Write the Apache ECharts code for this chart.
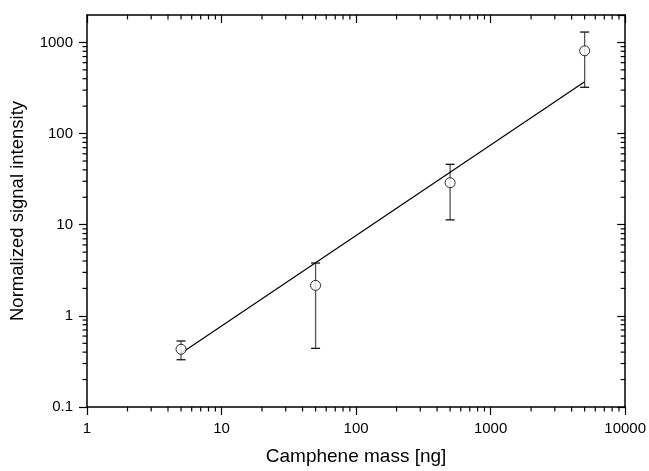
<!DOCTYPE html>
<html>
<head>
<meta charset="utf-8">
<script src="https://cdn.jsdelivr.net/npm/echarts@6/dist/echarts.min.js"></script>
<style>
  html, body { margin: 0; padding: 0; background: #fff; }
  #chart { width: 649px; height: 471px; }
</style>
</head>
<body>
<div id="chart"></div>
<script>
// camphene mass (ng) vs normalized signal
const massNg = [5, 50, 500, 5000];
const signal = [0.43, 2.16, 28.9, 810];
const errLow = [0.33, 0.44, 11.3, 322];
const errHigh = [0.53, 3.8, 46, 1300];
const fitMass = [5, 5000];
const fitSignal = [0.39, 370];

// minor tick positions (log axes, 2..9 of each decade)
const xMinor = [2, 3, 4, 5, 6, 7, 8, 9, 20, 30, 40, 50, 60, 70, 80, 90,
    200, 300, 400, 500, 600, 700, 800, 900, 2000, 3000, 4000, 5000, 6000, 7000, 8000, 9000];
const yMinor = [0.2, 0.3, 0.4, 0.5, 0.6, 0.7, 0.8, 0.9, 2, 3, 4, 5, 6, 7, 8, 9,
    20, 30, 40, 50, 60, 70, 80, 90, 200, 300, 400, 500, 600, 700, 800, 900];

const font = '"Liberation Sans", Arial, sans-serif';

let chart = echarts.init(document.getElementById('chart'));

function logAxis(pos, min, max, withLabels, inside) {
    return {
        type: 'log',
        logBase: 10,
        position: pos,
        min: min,
        max: max,
        axisLine: { show: true, onZero: false, lineStyle: { color: '#000', width: 1.5 } },
        axisTick: { show: true, inside: inside, length: 8, lineStyle: { color: '#000', width: 1.2 } },
        minorTick: { show: false },
        axisLabel: {
            show: withLabels,
            showMaxLabel: false,
            margin: 14,
            color: '#000',
            fontFamily: font,
            fontSize: 15,
            formatter: function (v) { return String(+v.toPrecision(6)); }
        },
        splitLine: { show: false },
        minorSplitLine: { show: false }
    };
}

let xBottom = logAxis('bottom', 1, 10000, true, false);
xBottom.axisLabel.showMaxLabel = true;
xBottom.name = 'Camphene mass [ng]';
xBottom.nameLocation = 'middle';
xBottom.nameGap = 40;
xBottom.nameTextStyle = { color: '#000', fontFamily: font, fontSize: 19 };

let yLeft = logAxis('left', 0.1, 2000, true, false);
yLeft.name = 'Normalized signal intensity';
yLeft.nameLocation = 'middle';
yLeft.nameGap = 60;
yLeft.nameTextStyle = { color: '#000', fontFamily: font, fontSize: 18.5 };

let errData = massNg.map((m, i) => [m, errLow[i], errHigh[i]]);

function tickStyle() {
    return { stroke: '#000', lineWidth: 1.2 };
}

chart.setOption({
    animation: false,
    backgroundColor: '#fff',
    grid: { left: 87, right: 23, top: 15, bottom: 62, containLabel: false },
    xAxis: [xBottom, logAxis('top', 1, 10000, false, true)],
    yAxis: [yLeft, logAxis('right', 0.1, 2000, false, true)],
    series: [
        {
            // minor ticks on bottom (outward) and top (inward)
            type: 'custom',
            clip: false,
            silent: true,
            z: 1,
            data: xMinor.map(v => [v, 1]),
            renderItem: function (params, api) {
                let cs = params.coordSys;
                let x = api.coord([api.value(0), 1])[0];
                let b = cs.y + cs.height, t = cs.y;
                return {
                    type: 'group',
                    children: [
                        { type: 'line', shape: { x1: x, y1: b, x2: x, y2: b + 4.5 }, style: tickStyle() },
                        { type: 'line', shape: { x1: x, y1: t, x2: x, y2: t + 4.5 }, style: tickStyle() }
                    ]
                };
            }
        },
        {
            // minor ticks on left (outward) and right (inward)
            type: 'custom',
            clip: false,
            silent: true,
            z: 1,
            data: yMinor.map(v => [1, v]),
            renderItem: function (params, api) {
                let cs = params.coordSys;
                let y = api.coord([1, api.value(1)])[1];
                let l = cs.x, r = cs.x + cs.width;
                return {
                    type: 'group',
                    children: [
                        { type: 'line', shape: { x1: l - 4.5, y1: y, x2: l, y2: y }, style: tickStyle() },
                        { type: 'line', shape: { x1: r - 4.5, y1: y, x2: r, y2: y }, style: tickStyle() }
                    ]
                };
            }
        },
        {
            type: 'custom',
            name: 'error',
            z: 2,
            data: errData,
            renderItem: function (params, api) {
                let lo = api.coord([api.value(0), api.value(1)]);
                let hi = api.coord([api.value(0), api.value(2)]);
                let w = 4.5;
                return {
                    type: 'group',
                    children: [
                        { type: 'line', shape: { x1: lo[0], y1: lo[1], x2: hi[0], y2: hi[1] },
                          style: { stroke: '#555', lineWidth: 1.3 } },
                        { type: 'line', shape: { x1: lo[0] - w, y1: lo[1], x2: lo[0] + w, y2: lo[1] },
                          style: { stroke: '#111', lineWidth: 1.3 } },
                        { type: 'line', shape: { x1: hi[0] - w, y1: hi[1], x2: hi[0] + w, y2: hi[1] },
                          style: { stroke: '#111', lineWidth: 1.3 } }
                    ]
                };
            }
        },
        {
            type: 'line',
            name: 'fit',
            z: 3,
            data: fitMass.map((m, i) => [m, fitSignal[i]]),
            showSymbol: false,
            symbol: 'none',
            lineStyle: { color: '#000', width: 1.2 }
        },
        {
            type: 'scatter',
            name: 'data',
            z: 4,
            data: massNg.map((m, i) => [m, signal[i]]),
            symbol: 'circle',
            symbolSize: 10,
            itemStyle: { color: '#fff', borderColor: '#000', borderWidth: 1 }
        }
    ]
});
</script>
</body>
</html>
